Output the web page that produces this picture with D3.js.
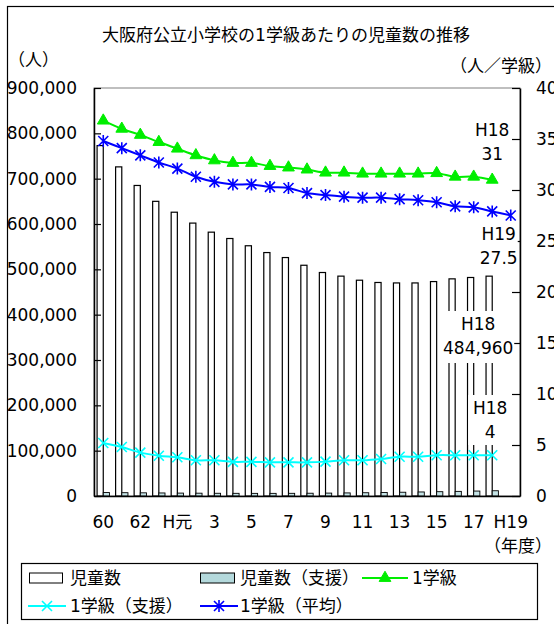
<!DOCTYPE html>
<html>
<head>
<meta charset="utf-8">
<script src="https://cdn.jsdelivr.net/npm/d3@7"></script>
<style>
  body { margin: 0; background: #fff; }
  text { font-family: "DejaVu Sans", "Noto Sans CJK JP", sans-serif; fill: #000; }
</style>
</head>
<body>
<svg id="chart" width="554" height="624"></svg>
<script>
// School years S60 (1985) .. H19 (2007)
const years = ["S60","S61","S62","S63","H1","H2","H3","H4","H5","H6","H7","H8",
               "H9","H10","H11","H12","H13","H14","H15","H16","H17","H18","H19"];
const yearLabels = ["60","","62","","H元","","3","","5","","7","","9","","11","","13","","15","","17","","H19"];

// 児童数 (pupils in regular classes)
const pupils = [773000, 726000, 685000, 650000, 626000, 602000, 582000, 568000, 552000, 537000,
                526000, 509000, 493000, 485000, 476000, 471000, 470000, 470000, 473000, 479000,
                482000, 484960, null];
// 児童数（支援） (pupils in support classes)
const pupilsSupport = [7600, 7300, 7000, 6700, 6400, 6200, 6000, 5900, 5800, 5800, 5900, 6100,
                       6400, 6800, 7200, 7700, 8300, 8900, 9500, 10200, 10900, 11600, null];
// 1学級 (pupils per regular class)
const perClass = [36.8, 36.0, 35.4, 34.7, 34.05, 33.4, 32.9, 32.65, 32.65, 32.35, 32.2, 32.0,
                  31.7, 31.7, 31.6, 31.6, 31.6, 31.6, 31.65, 31.3, 31.3, 31, null];
// 1学級（支援） (pupils per support class)
const perClassSupport = [5.2, 4.8, 4.25, 3.95, 3.8, 3.5, 3.5, 3.35, 3.35, 3.3, 3.3, 3.3,
                         3.37, 3.5, 3.5, 3.63, 3.85, 3.85, 4.0, 4.0, 4.0, 4, null];
// 1学級（平均） (overall average per class)
const perClassAverage = [34.8, 34.1, 33.4, 32.7, 32.1, 31.3, 30.8, 30.55, 30.55, 30.3, 30.2, 29.7,
                         29.5, 29.35, 29.25, 29.25, 29.1, 29.0, 28.8, 28.4, 28.3, 27.9, 27.5];

const leftTicks = [0, 100000, 200000, 300000, 400000, 500000, 600000, 700000, 800000, 900000];
const rightTicks = [0, 5, 10, 15, 20, 25, 30, 35, 40];

const svg = d3.select("#chart");
const W = 554, H = 624;
const plot = { left: 94, right: 520, top: 88, bottom: 496 };
const FS = 17;

svg.append("rect").attr("width", W).attr("height", H).attr("fill", "#fff");
// outer chart frame (runs past the right and bottom edges)
svg.append("rect").attr("x", 7.5).attr("y", 6.5).attr("width", 600).attr("height", 700)
  .attr("fill", "none").attr("stroke", "#000").attr("stroke-width", 1.2);

const x = d3.scaleBand().domain(years).range([plot.left, plot.right]);
const xs = d3.scaleBand().domain(["main", "support"]).range([0, x.bandwidth()]).paddingOuter(0.5);
const yL = d3.scaleLinear().domain([0, 900000]).range([plot.bottom, plot.top]);
const yR = d3.scaleLinear().domain([0, 40]).range([plot.bottom, plot.top]);
const cx = i => x(years[i]) + x.bandwidth() / 2;

// plot area frame
svg.append("rect").attr("x", plot.left).attr("y", plot.top)
  .attr("width", plot.right - plot.left).attr("height", plot.bottom - plot.top)
  .attr("fill", "none").attr("stroke", "#808080").attr("stroke-width", 1);

// title and unit labels
svg.append("text").attr("x", 286).attr("y", 35).attr("text-anchor", "middle")
  .attr("dominant-baseline", "central").style("font-size", "17px")
  .text("大阪府公立小学校の1学級あたりの児童数の推移");
svg.append("text").attr("x", 8).attr("y", 60).attr("dominant-baseline", "central")
  .style("font-size", FS + "px").text("（人）");
svg.append("text").attr("x", 552).attr("y", 66).attr("text-anchor", "end").attr("dominant-baseline", "central")
  .style("font-size", FS + "px").text("（人／学級）");
svg.append("text").attr("x", 552).attr("y", 546).attr("text-anchor", "end").attr("dominant-baseline", "central")
  .style("font-size", FS + "px").text("（年度）");

// bars
const bars = svg.append("g");
years.forEach((yr, i) => {
  if (pupils[i] != null) {
    bars.append("rect").attr("x", x(yr) + xs("main")).attr("y", yL(pupils[i]))
      .attr("width", xs.bandwidth()).attr("height", plot.bottom - yL(pupils[i]))
      .attr("fill", "#fff").attr("stroke", "#000").attr("stroke-width", 1.2);
  }
  if (pupilsSupport[i] != null) {
    bars.append("rect").attr("x", x(yr) + xs("support")).attr("y", yL(pupilsSupport[i]))
      .attr("width", xs.bandwidth()).attr("height", plot.bottom - yL(pupilsSupport[i]))
      .attr("fill", "#c4e3e6").attr("stroke", "#000").attr("stroke-width", 0.9);
  }
});

// axes
const axL = svg.append("g").attr("transform", `translate(${plot.left},0)`)
  .call(d3.axisLeft(yL).tickValues(leftTicks).tickSize(-7).tickSizeOuter(0).tickPadding(17)
    .tickFormat(d3.format(",")));
const axR = svg.append("g").attr("transform", `translate(${plot.right},0)`)
  .call(d3.axisRight(yR).tickValues(rightTicks).tickSize(-8).tickSizeOuter(0).tickPadding(16));
const axB = svg.append("g").attr("transform", `translate(0,${plot.bottom})`)
  .call(d3.axisBottom(x).tickSize(0).tickSizeOuter(0).tickPadding(20)
    .tickFormat((d, i) => yearLabels[i]));
[axL, axR, axB].forEach(g => {
  g.selectAll("path.domain").attr("stroke", "#000").attr("stroke-width", 1.5);
  g.selectAll(".tick line").attr("stroke", "#000").attr("stroke-width", 1.2);
  g.selectAll("text").style("font-size", FS + "px").attr("font-family", null);
});

// lines
const series = [
  { data: perClass, color: "#00ee00", marker: "tri" },
  { data: perClassSupport, color: "#00ffff", marker: "x" },
  { data: perClassAverage, color: "#0000ff", marker: "star" }
];
const markerPath = {
  x: "M-5,-5L5,5M-5,5L5,-5",
  star: "M-5,-5L5,5M-5,5L5,-5M0,-6L0,6"
};
function drawMarker(g, type, color, px, py) {
  if (type === "tri") {
    g.append("path").attr("d", d3.symbol(d3.symbolTriangle, 60)())
      .attr("transform", `translate(${px},${py})`).attr("fill", color).attr("stroke", color);
  } else {
    g.append("path").attr("d", markerPath[type]).attr("transform", `translate(${px},${py})`)
      .attr("fill", "none").attr("stroke", color).attr("stroke-width", 1.6);
  }
}
const line = d3.line().defined(d => d != null).x((d, i) => cx(i)).y(d => yR(d))
  .curve(d3.curveCatmullRom);
series.forEach(s => {
  const g = svg.append("g");
  g.append("path").datum(s.data).attr("d", line).attr("fill", "none")
    .attr("stroke", s.color).attr("stroke-width", 2);
  s.data.forEach((d, i) => { if (d != null) drawMarker(g, s.marker, s.color, cx(i), yR(d)); });
});

// value callouts
const iH18 = years.indexOf("H18"), iH19 = years.indexOf("H19");
function callout(lines, px, py, box) {
  const g = svg.append("g");
  if (box) g.append("rect").attr("x", px - box[0] / 2).attr("y", py - 13)
    .attr("width", box[0]).attr("height", box[1]).attr("fill", "#fff");
  lines.forEach((t, k) => g.append("text").attr("x", px).attr("y", py + k * 24)
    .attr("text-anchor", "middle").attr("dominant-baseline", "central")
    .style("font-size", FS + "px").text(t));
}
callout(["H18", String(perClass[iH18])], cx(iH18), 130, null);
callout(["H19", String(perClassAverage[iH19])], cx(iH19) - 12, 234, [38, 50]);
callout(["H18", d3.format(",")(pupils[iH18])], cx(iH18) - 14, 324, [72, 52]);
callout(["H18", String(perClassSupport[iH18])], cx(iH18) - 2, 408, [44, 50]);

// legend
const lg = svg.append("g");
lg.append("rect").attr("x", 21.5).attr("y", 563.5).attr("width", 516).attr("height", 56)
  .attr("fill", "#fff").attr("stroke", "#000").attr("stroke-width", 1.2);
const r1 = 578, r2 = 606;
lg.append("rect").attr("x", 29.5).attr("y", r1 - 5).attr("width", 33).attr("height", 10)
  .attr("fill", "#fff").attr("stroke", "#000");
lg.append("rect").attr("x", 200.5).attr("y", r1 - 5).attr("width", 34).attr("height", 10)
  .attr("fill", "#b4d9dc").attr("stroke", "#000");
function legLine(x0, x1, yy, color, marker) {
  lg.append("line").attr("x1", x0).attr("x2", x1).attr("y1", yy).attr("y2", yy)
    .attr("stroke", color).attr("stroke-width", 2);
  drawMarker(lg, marker, color, (x0 + x1) / 2, yy);
}
legLine(362, 408, r1, "#00ee00", "tri");
legLine(28, 66, r2, "#00ffff", "x");
legLine(200, 238, r2, "#0000ff", "star");
[["児童数", 70, r1], ["児童数（支援）", 240, r1], ["1学級", 412, r1],
 ["1学級（支援）", 70, r2], ["1学級（平均）", 240, r2]].forEach(([t, lx, ly]) =>
  lg.append("text").attr("x", lx).attr("y", ly).attr("dominant-baseline", "central")
    .style("font-size", FS + "px").text(t));
</script>
</body>
</html>
